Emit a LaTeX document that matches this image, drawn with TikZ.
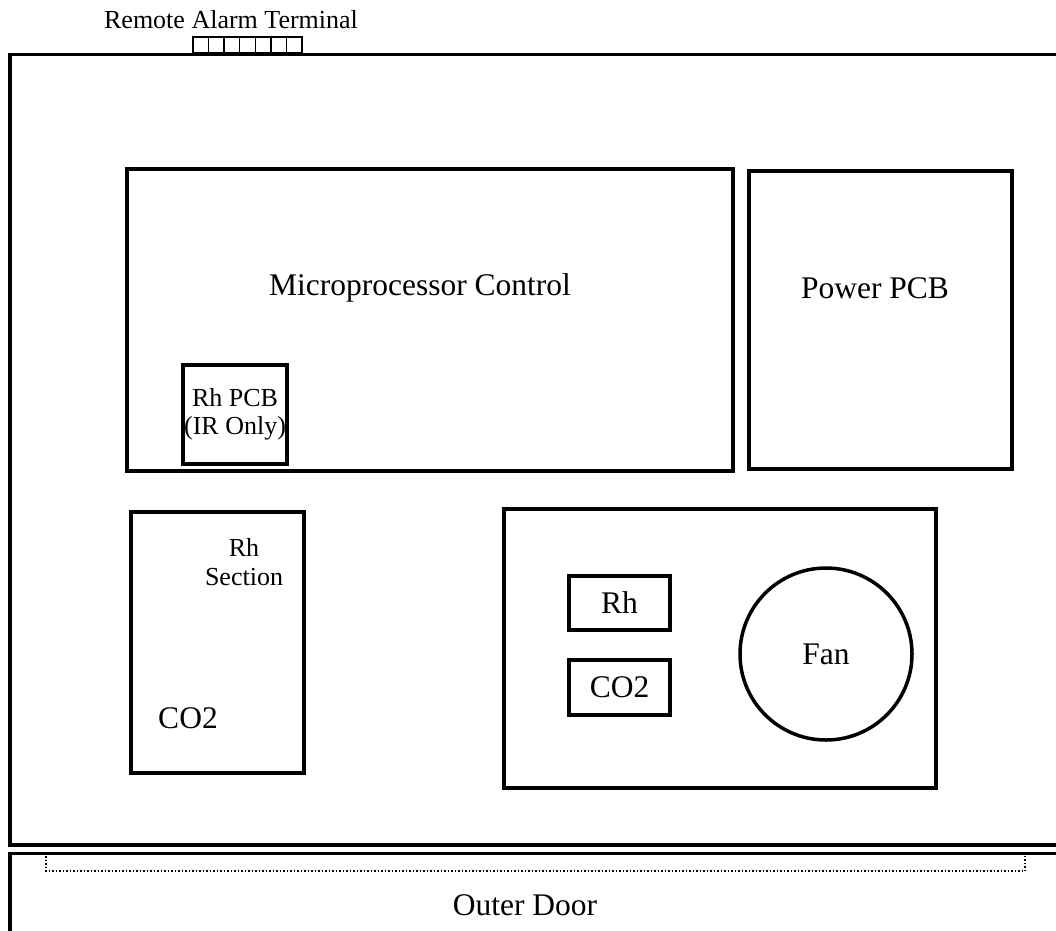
\documentclass[tikz,border=0pt]{standalone}
\usepackage{fontspec}
\setmainfont{Liberation Serif}
\begin{document}
\begin{tikzpicture}[%
                x=1pt, y=-1pt,
                mybox/.style={draw=black, line width=3.5pt},
                mypart/.style={shape=rectangle, draw=black, line width=3.5pt, inner sep=0pt, font=\fontsize{31.5}{36}\selectfont},
                bigtext/.style={font=\fontsize{31.5}{36}\selectfont, inner sep=0pt},
                smalltext/.style={font=\fontsize{26}{30}\selectfont, inner sep=0pt, align=center}
        ]
            \useasboundingbox (0,0) rectangle (1056,930);
            % cabinet and outer door
            \draw [mybox] (1060,54.5) -- (10,54.5) -- (10,845) -- (1060,845);
            \draw [mybox] (1060,853.5) -- (10,853.5) -- (10,935);
            \draw [dotted, line width=1.5pt] (46,856) -- (46,871) -- (1025,871) -- (1025,856);
            \node [bigtext] (door) at (525,905) {Outer Door};
            % remote alarm terminal
            \node [smalltext] (alarm) at (231,20) {Remote Alarm Terminal};
            \foreach \myi in {0,...,6} {
                \draw [line width=1.5pt] ({193+\myi*15.57},37) rectangle ({193+(\myi+1)*15.57},53);
            }
            % boards
            \node [mypart, minimum width=606pt, minimum height=302pt] (micro) at (430,320) {};
            \node [bigtext] (microtext) at (420,288) {Microprocessor Control};
            \node [mypart, minimum width=263pt, minimum height=298pt] (power) at (880.5,320) {};
            \node [bigtext] (powertext) at (875,288) {Power PCB};
            \node [mypart, minimum width=104pt, minimum height=99pt, font=\fontsize{26}{28}\selectfont, align=center] (rhpcb) at (235,414.5) {Rh PCB\\(IR Only)};
            % rh section
            \node [mypart, minimum width=173pt, minimum height=261pt] (rhsection) at (217.5,642.5) {};
            \node [smalltext, font=\fontsize{26}{29}\selectfont] (rhsectext) at (244,562) {Rh\\Section};
            \node [bigtext] (co2text) at (188,718) {CO2};
            % fan compartment
            \node [mypart, minimum width=432pt, minimum height=279pt] (fanbox) at (720,648.5) {};
            \node [mypart, minimum width=101pt, minimum height=54pt] (rh) at (619.5,603) {Rh};
            \node [mypart, minimum width=101pt, minimum height=55pt] (co2) at (619.5,687.5) {CO2};
            \node [shape=circle, draw=black, line width=3.5pt, minimum size=172pt, inner sep=0pt, font=\fontsize{31.5}{36}\selectfont] (fan) at (826,654) {Fan};
        \end{tikzpicture}
\end{document}
